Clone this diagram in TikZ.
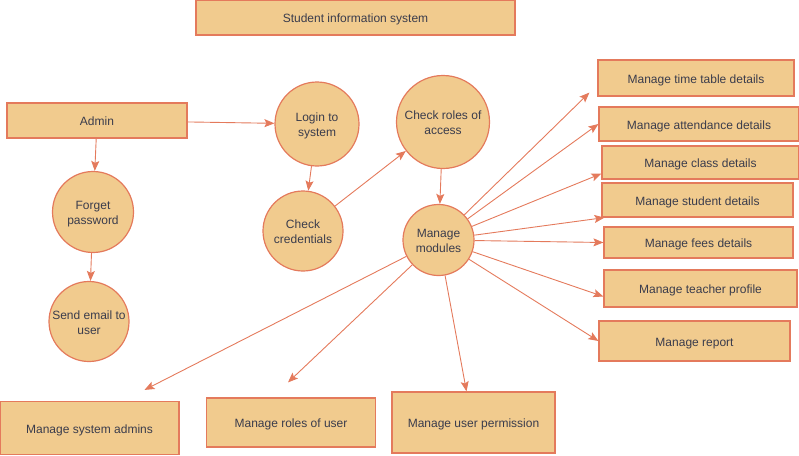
\documentclass[tikz,border=0pt]{standalone}
\usepackage{fontspec}
\setmainfont{Liberation Sans}
\usetikzlibrary{arrows.meta}
\definecolor{boxfill}{RGB}{241,203,142}
\definecolor{boxline}{RGB}{228,122,92}
\definecolor{txt}{RGB}{58,60,76}
\tikzset{
  base/.style={fill=boxfill, draw=boxline, line width=1.2pt, text=txt,
    font=\fontsize{12}{15}\selectfont, inner sep=0pt},
  box/.style={base, rectangle, text height=11pt, text depth=1pt},
  proc/.style={base, circle, align=center, text height=27.5pt, text depth=2.5pt},
  conn/.style={draw=boxline, line width=0.9pt, -{Stealth[length=10pt,width=8pt,inset=2pt]}}
}
\begin{document}
\begin{tikzpicture}[x=1pt,y=-1pt]
\useasboundingbox (0,0) rectangle (799,455);
% rectangles
\node[box, minimum width=319pt, minimum height=35pt] (title) at (355.5,17.5) {Student information system};
\node[box, minimum width=180pt, minimum height=35pt] (admin) at (97,120.5) {Admin};
\node[box, minimum width=196pt, minimum height=36pt] (tt) at (696,78) {Manage time table details};
\node[box, minimum width=200pt, minimum height=34pt] (att) at (699,124) {Manage attendance details};
\node[box, minimum width=197pt, minimum height=33pt] (cls) at (700.5,162.5) {Manage class details};
\node[box, minimum width=191pt, minimum height=34pt] (stu) at (697.5,200) {Manage student details};
\node[box, minimum width=189pt, minimum height=31pt] (fees) at (698.5,242.5) {Manage fees details};
\node[box, minimum width=193pt, minimum height=37pt] (teach) at (700.5,288.5) {Manage teacher profile};
\node[box, minimum width=191pt, minimum height=40pt] (rep) at (694.5,341) {Manage report};
\node[box, minimum width=179pt, minimum height=53pt] (sa) at (89.5,428) {Manage system admins};
\node[box, minimum width=169pt, minimum height=49pt] (ro) at (291,422.5) {Manage roles of user};
\node[box, minimum width=163pt, minimum height=61pt] (pe) at (473.5,422.5) {Manage user permission};
% circles
\node[proc, minimum size=84pt] (login) at (317,124) {Login to\\system};
\node[proc, minimum size=80pt] (cred) at (303,231) {Check\\credentials};
\node[proc, minimum size=81pt] (forget) at (93,212) {Forget\\password};
\node[proc, minimum size=80pt] (send) at (89,321.5) {Send email to\\user};
\node[proc, minimum size=93pt] (roles) at (443,122) {Check roles of\\access};
\node[proc, minimum size=71pt] (mm) at (438.5,240) {Manage\\modules};
% connectors
\draw[conn] (admin) -- (login);
\draw[conn] (admin) -- (forget);
\draw[conn] (forget) -- (send);
\draw[conn] (login) -- (cred);
\draw[conn] (cred) -- (roles);
\draw[conn] (roles) -- (mm);
\draw[conn] (mm) -- ([xshift=-8pt,yshift=4pt]tt.south west);
\draw[conn] (mm) -- (att.west);
\draw[conn] (mm) -- ([yshift=6pt]cls.south west);
\draw[conn] (mm) -- ([xshift=3pt]stu.south west);
\draw[conn] (mm) -- (fees.west);
\draw[conn] (mm) -- ([yshift=-8pt]teach.west);
\draw[conn] (mm) -- (rep.west);
\draw[conn] (mm) -- ([xshift=55pt,yshift=11pt]sa.north);
\draw[conn] (mm) -- ([xshift=-3pt,yshift=15pt]ro.north);
\draw[conn] (mm) -- ([xshift=-7pt]pe.north);
\end{tikzpicture}
\end{document}
